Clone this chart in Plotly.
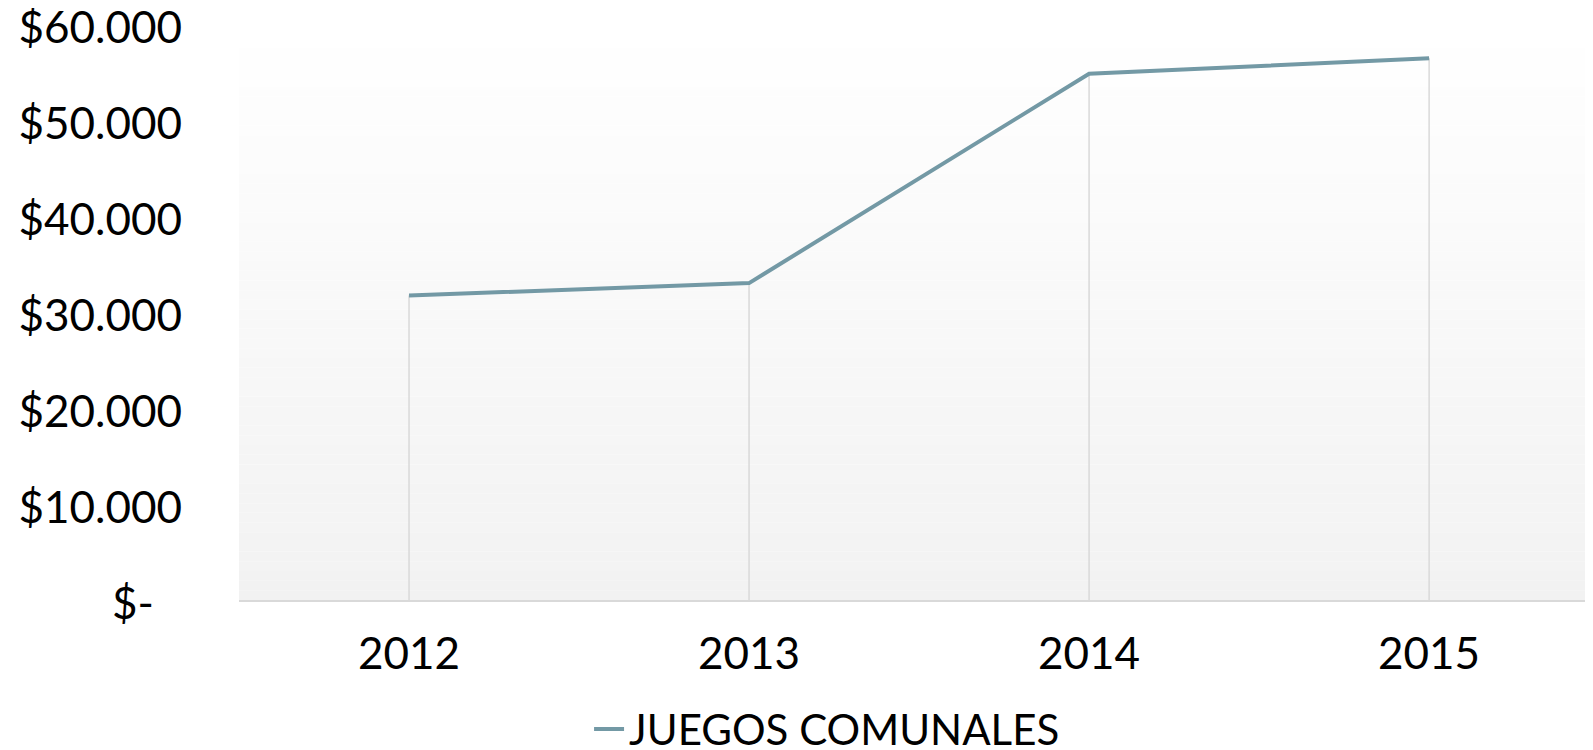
import plotly.graph_objects as go

years = ["2012", "2013", "2014", "2015"]
values = [31700, 33000, 54800, 56400]
series_name = "JUEGOS COMUNALES"
y_tickvals = [0, 10000, 20000, 30000, 40000, 50000, 60000]
y_ticktext = ["$-\u00a0\u00a0\u2009", "$10.000", "$20.000", "$30.000", "$40.000", "$50.000", "$60.000"]

FONT = "Lato"
FS = 44
LINE_COLOR = "#7399a5"

fig = go.Figure()

# gradient plot-area background (white top -> light gray bottom)
n_bands = 60
y_top = 60500
for i in range(n_bands):
    t = i / (n_bands - 1)
    c = int(round(255 - (255 - 242) * (1 - t)))
    fig.add_shape(type="rect", xref="paper", yref="y",
                  x0=0, x1=1,
                  y0=y_top * i / n_bands, y1=y_top * (i + 1) / n_bands,
                  fillcolor=f"rgb({c},{c},{c})", line_width=0, layer="below")

# drop lines from each point to the axis
dx, dy = [], []
for yr, v in zip(years, values):
    dx += [yr, yr, None]
    dy += [0, v, None]
fig.add_trace(go.Scatter(x=dx, y=dy, mode="lines",
                         line=dict(color="#d9d9d9", width=1.5),
                         showlegend=False, hoverinfo="skip"))

fig.add_trace(go.Scatter(x=years, y=values, mode="lines", name=series_name,
                         line=dict(color=LINE_COLOR, width=4)))

fig.update_layout(
    width=1585, height=742,
    margin=dict(l=231, r=0, t=11, b=150, autoexpand=False),
    paper_bgcolor="white", plot_bgcolor="rgba(0,0,0,0)",
    font=dict(family=FONT, size=FS, color="black"),
    showlegend=True,
    legend=dict(orientation="h", xref="container", yref="container",
                x=0.3666, xanchor="left", y=0.028, yanchor="middle",
                font=dict(family=FONT, size=42, color="black"),
                bgcolor="rgba(0,0,0,0)"),
)
fig.update_xaxes(type="category", range=[-0.5, 3.482], showgrid=False,
                 showline=True, linecolor="#d9d9d9", linewidth=1.5,
                 ticks="", ticklabelstandoff=14, automargin=False,
                 tickfont=dict(family=FONT, size=FS, color="black"))
fig.update_yaxes(range=[0, y_top], tickvals=y_tickvals, ticktext=y_ticktext,
                 showgrid=False, zeroline=False, showline=False, ticks="",
                 ticklabelstandoff=56, ticklabeloverflow="allow",
                 ticklabelshift=4, automargin=False,
                 tickfont=dict(family=FONT, size=FS, color="black"))

fig.write_html("out.html")
